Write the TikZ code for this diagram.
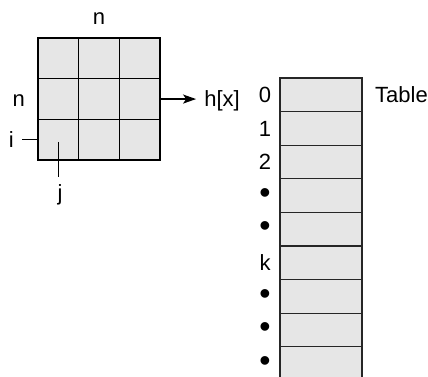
\documentclass[tikz,border=0pt]{standalone}
\usepackage{fontspec}
\setmainfont{Liberation Sans}
\usetikzlibrary{arrows.meta,positioning}
\definecolor{cellfill}{HTML}{E6E6E6}
\definecolor{slotborder}{HTML}{262626}
\newcommand{\dotmark}{{\fontsize{32}{32}\selectfont •}}

\begin{document}
\begin{tikzpicture}[
    x=1pt, y=-1pt,
    cell/.style={draw=black, fill=cellfill, line width=1.4pt, inner sep=0pt, outer sep=0pt,
                 minimum width=40.7pt, minimum height=40.7pt},
    slot/.style={draw=slotborder, fill=cellfill, line width=1.3pt, inner sep=0pt, outer sep=0pt,
                 minimum width=82pt, minimum height=33.6pt},
    lbl/.style={font=\fontsize{22}{25}\selectfont, inner sep=0pt, text height=15.5pt, text depth=0pt},
    arr/.style={-{Stealth[length=13pt,width=9pt,inset=3pt]}, line width=1.4pt}
]
\useasboundingbox (0,0) rectangle (428,376);
% n x n grid
\foreach \r in {0,1,2}
  \foreach \c in {0,1,2}
    \node[cell] (g\r\c) at ({58.35+40.7*\c},{58.35+40.7*\r}) {};
\node[lbl, above=13pt of g01] (ntop) {n};
\node[lbl, left=13pt of g10] (nleft) {n};
\node[lbl, left=24pt of g20] (ilbl) {i};
\node[lbl, anchor=north] (jlbl) at (60,185) {j};
\draw[line width=1.2pt, shorten <=8pt] (ilbl) -- (g20.west);
\draw[line width=1.2pt, shorten <=2pt] (g20.center) -- (g20.center |- {0,177});
% hash
\node[lbl, right=44pt of g12] (hx) {h[x]};
\draw[arr, shorten >=8pt] (g12.east) -- (hx);
% table slots
\foreach \i/\t in {0/0,1/1,2/2,3/\dotmark,4/\dotmark,5/k,6/\dotmark,7/\dotmark,8/\dotmark} {
  \node[slot] (t\i) at (321,{78+33.6*(\i+0.5)}) {};
  \node[lbl] (k\i) at ([xshift=-15pt]t\i.west) {\t};
}
\node[lbl, right=13pt of t0] (tname) {Table};
\end{tikzpicture}
\end{document}
